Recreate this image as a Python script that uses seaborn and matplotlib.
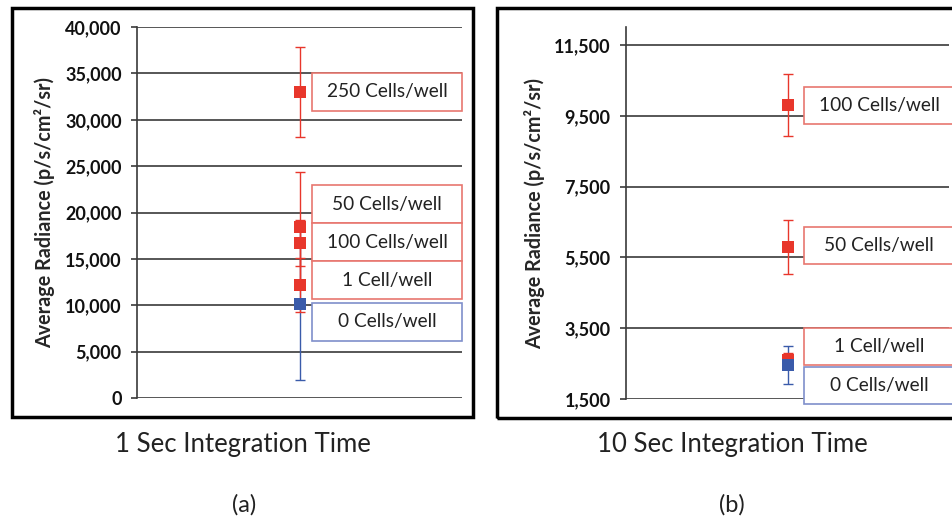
import numpy as np
import pandas as pd
import matplotlib
matplotlib.use("Agg")
import matplotlib.pyplot as plt
import matplotlib.transforms as mtransforms
from matplotlib.patches import Rectangle
import seaborn as sns

# --- data ---
a_labels = ["250 Cells/well", "50 Cells/well", "100 Cells/well", "1 Cell/well", "0 Cells/well"]
a_mean = [33000, 18400, 16700, 12200, 10100]
a_err = [4850, 6000, 2470, 2900, 8150]
a_group = ["cells", "cells", "cells", "cells", "blank"]

b_labels = ["100 Cells/well", "50 Cells/well", "1 Cell/well", "0 Cells/well"]
b_mean = [9800, 5800, 2600, 2460]
b_err = [880, 770, 200, 545]
b_group = ["cells", "cells", "cells", "blank"]

a_ticks = list(range(0, 40001, 5000))
b_ticks = list(range(1500, 11501, 2000))

# label box centres (layout only)
a_box_y = [33000, 20900, 16800, 12700, 8200]
b_box_y = [9800, 5840, 2980, 1880]

RED = "#E8362B"
BLUE = "#3A5BAA"
RED_EDGE = "#E8776F"
BLUE_EDGE = "#7F8FCB"
palette = {"cells": RED, "blank": BLUE}
edges = {"cells": RED_EDGE, "blank": BLUE_EDGE}

sns.set_theme(style="white")
plt.rcParams["font.family"] = ["Lato", "DejaVu Sans"]

fig = plt.figure(figsize=(9.53, 5.19), dpi=100)


def draw_panel(ax, labels, mean, err, group, ticks, ylim, box_y, box_h, box_x):
    df = pd.DataFrame({"label": labels, "mean": mean, "err": err, "group": group, "x": 0})
    # error bars: blank first, cells on top
    for g in ["blank", "cells"]:
        sub = df[df["group"] == g]
        ax.errorbar(sub["x"], sub["mean"], yerr=sub["err"], fmt="none",
                    ecolor=palette[g], elinewidth=1.0, capsize=3.5, capthick=1.0, zorder=3)
    order = df.sort_values("group", ascending=False)
    sns.scatterplot(data=order, x="x", y="mean", hue="group", palette=palette,
                    marker="s", s=75, linewidth=0, ax=ax, legend=False, zorder=4)
    trans = mtransforms.blended_transform_factory(ax.transAxes, ax.transData)
    for lab, yc, g in zip(labels, box_y, group):
        ax.add_patch(Rectangle((box_x[0], yc - box_h / 2), box_x[1] - box_x[0], box_h,
                               transform=trans, facecolor="white", edgecolor=edges[g],
                               lw=1.2, zorder=5, clip_on=False))
        ax.text((box_x[0] + box_x[1]) / 2, yc, lab, transform=trans, ha="center",
                va="center", fontsize=13.8, color="#222222", zorder=6, clip_on=False)
    ax.set_xlim(-1, 1)
    ax.set_ylim(*ylim)
    ax.set_yticks(ticks)
    ax.set_yticklabels([f"{t:,}" for t in ticks], fontweight="bold", fontsize=13)
    ax.set_xticks([])
    ax.set_xlabel("")
    ax.set_ylabel("Average Radiance (p/s/cm²/sr)", fontweight="bold", fontsize=14.2)
    ax.yaxis.set_label_coords(-0.252, 0.5)
    ax.yaxis.grid(True, color="#3a3a3a", lw=1.2)
    ax.set_axisbelow(True)
    for s in ["top", "right", "bottom"]:
        ax.spines[s].set_visible(False)
    ax.spines["left"].set_color("#3a3a3a")
    ax.spines["left"].set_linewidth(1.2)
    ax.tick_params(axis="y", left=True, length=4, width=1.2, color="#3a3a3a", pad=7,
                   labelcolor="#111111")


ax_a = fig.add_axes([0.1438, 0.2331, 0.341, 0.7148])
draw_panel(ax_a, a_labels, a_mean, a_err, a_group, a_ticks, (0, 40000),
           a_box_y, 4100, (0.538, 1.0))

ax_b = fig.add_axes([0.6569, 0.2312, 0.339, 0.7162])
draw_panel(ax_b, b_labels, b_mean, b_err, b_group, b_ticks, (1500, 12000),
           b_box_y, 1045, (0.551, 1.015))

# outer panel frames
fig.add_artist(Rectangle((12 / 953, 1 - 417 / 519), 461 / 953, 409 / 519,
                         transform=fig.transFigure, fill=False, edgecolor="black", lw=2.5))
fig.add_artist(Rectangle((497 / 953, 1 - 418 / 519), 470 / 953, 410 / 519,
                         transform=fig.transFigure, fill=False, edgecolor="black", lw=2.5))

fig.text(0.255, 0.1426, "1 Sec Integration Time", ha="center", va="center", fontsize=18.5, color="#222222")
fig.text(0.768, 0.1426, "10 Sec Integration Time", ha="center", va="center", fontsize=18.5, color="#222222")
fig.text(0.256, 0.027, "(a)", ha="center", va="center", fontsize=17, color="#222222")
fig.text(0.768, 0.027, "(b)", ha="center", va="center", fontsize=17, color="#222222")

fig.savefig("out.png", dpi=100)
